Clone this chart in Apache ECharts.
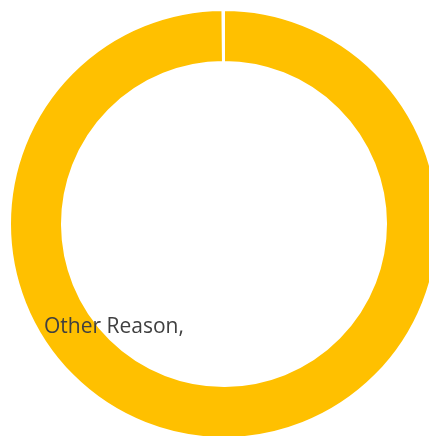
<!DOCTYPE html>
<html><head><meta charset="utf-8">
<script src="https://cdn.jsdelivr.net/npm/echarts@6/dist/echarts.min.js"></script>
<style>html,body{margin:0;padding:0;background:#fff}#c{width:429px;height:436px}</style>
</head><body><div id="c"></div>
<script>
var categories = ['Other Reason', 'Gap'];
var values = [99.9, 0.1];
var labelText = 'Other Reason,';
var chart = echarts.init(document.getElementById('c'));
chart.setOption({
  animation: false,
  series: [{
    type: 'pie',
    center: [224, 224],
    radius: [162, 214],
    startAngle: 90,
    clockwise: true,
    label: { show: false },
    labelLine: { show: false },
    itemStyle: { color: '#FFC000', borderColor: '#fff', borderWidth: 2 },
    data: categories.map(function (c, i) { return { name: c, value: values[i] }; })
  }],
  graphic: [{
    type: 'text', left: 44, top: 317, z: 100,
    style: { text: labelText, fill: '#404040', font: '21px "Open Sans"' }
  }]
});
</script></body></html>
